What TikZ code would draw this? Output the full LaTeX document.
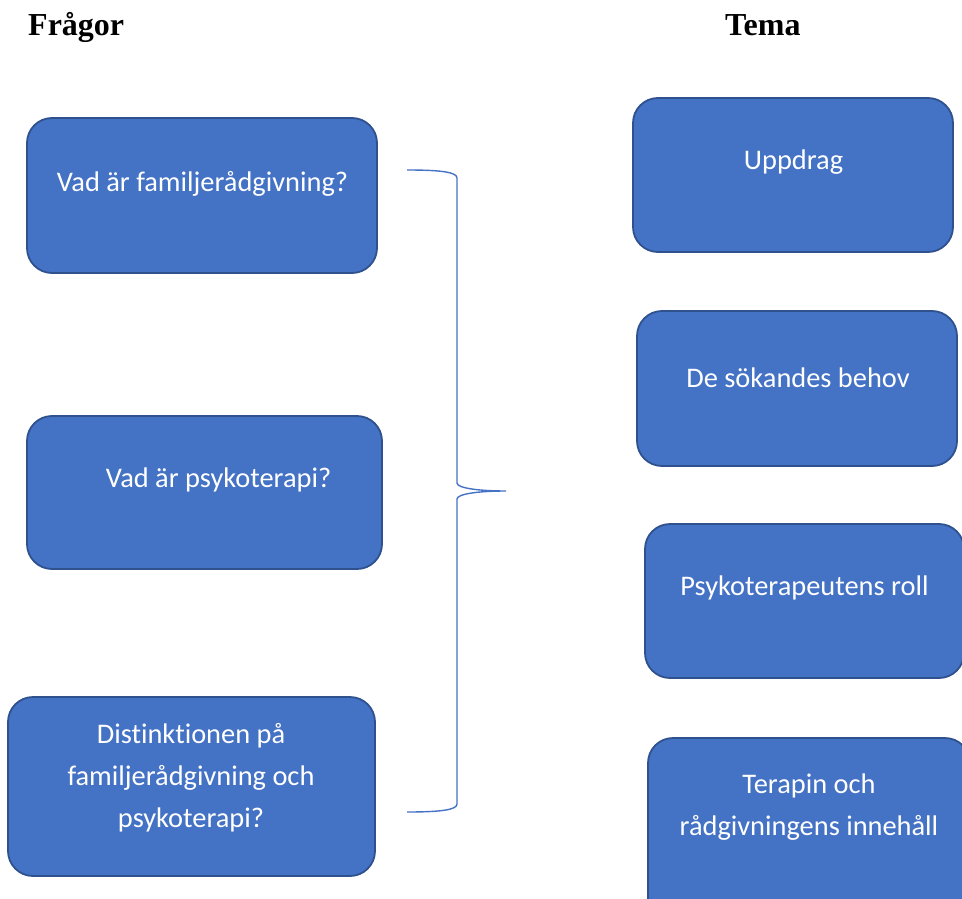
\documentclass[tikz,border=0pt]{standalone}
\usepackage{fontspec}
\setmainfont{Liberation Serif}
\newfontfamily\boxfont[Ligatures=NoCommon]{Carlito}
\definecolor{boxblue}{HTML}{4472C4}
\definecolor{boxedge}{HTML}{2F528F}
\tikzset{
  qbox/.style = {draw = boxedge, line width = 1.8pt, fill = boxblue, rounded corners = 25pt, inner sep = 0pt},
  qtext/.style = {text = white, font = \boxfont\fontsize{28.4}{42}\selectfont, align = center, inner sep = 0pt},
  head/.style = {font = \bfseries\fontsize{32}{38}\selectfont, anchor = base west, inner sep = 0pt},
  brace/.style = {draw = boxblue, line width = 1.4pt}
}
\begin{document}
\begin{tikzpicture}[x = 1pt, y = -1pt]
\useasboundingbox (0, 0) rectangle (962, 899);

\node[head] (frag) at (28, 36) {Frågor};
\node[head] (tema) at (725, 36) {Tema};

% Frågor
\node[qbox, minimum width = 350pt, minimum height = 155pt] (q1) at (202, 195.5) {};
\node[qbox, minimum width = 355pt, minimum height = 153pt] (q2) at (204.5, 492.5) {};
\node[qbox, minimum width = 367pt, minimum height = 179pt] (q3) at (191.5, 786.5) {};
\node[qtext] (q1t) at (202.5, 184) {Vad är familjerådgivning?};
\node[qtext] (q2t) at (218.5, 480) {Vad är psykoterapi?};
\node[qtext] (q3t) at (191, 778) {Distinktionen på\\familjerådgivning och\\psykoterapi?};

% Tema
\node[qbox, minimum width = 320pt, minimum height = 154pt] (t1) at (793, 175) {};
\node[qbox, minimum width = 320pt, minimum height = 155pt] (t2) at (797, 388.5) {};
\node[qbox, minimum width = 319pt, minimum height = 154pt] (t3) at (804.5, 601) {};
\node[qbox, minimum width = 322pt, minimum height = 200pt] (t4) at (809, 838) {};
\node[qtext] (t1t) at (793.5, 162) {Uppdrag};
\node[qtext] (t2t) at (798, 378) {De sökandes behov};
\node[qtext] (t3t) at (804.5, 588) {Psykoterapeutens roll};
\node[qtext] (t4t) at (809, 807) {Terapin och\\rådgivningens innehåll};

% klammer
\coordinate (bt) at (407, 170);
\coordinate (bm) at (506, 491);
\coordinate (bb) at (407, 812);
\draw[brace] (bt) .. controls (440, 170) and (457, 172) .. (457, 178) -- (457, 483)
  .. controls (457, 488) and (478, 491) .. (bm)
  .. controls (478, 491) and (457, 494) .. (457, 499) -- (457, 804)
  .. controls (457, 810) and (440, 812) .. (bb);
\end{tikzpicture}
\end{document}
